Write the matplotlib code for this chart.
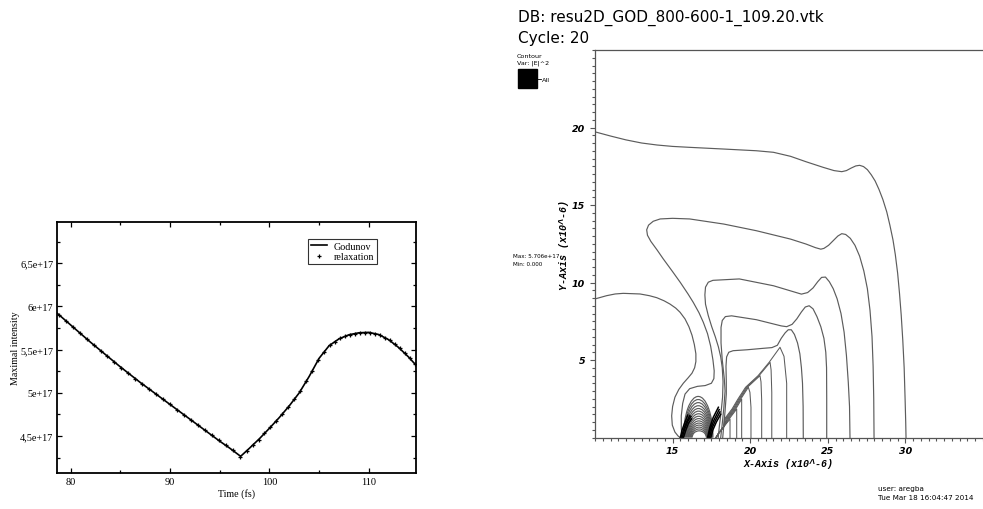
import matplotlib
matplotlib.use("Agg")
import matplotlib.pyplot as plt
from matplotlib.lines import Line2D
from matplotlib.patches import Arc, Rectangle
from matplotlib.ticker import FixedLocator, MultipleLocator, FuncFormatter

# ---------------- left panel data (intensity in units of 1e17) ----------------
t_god = [78.65, 80, 81, 82, 83, 84, 85, 86, 87, 88, 89, 90, 91, 92, 93, 94, 95, 96,
         97.1, 98, 99, 100, 101, 102, 103, 104, 105, 106, 107, 108, 109, 110, 111,
         112, 113, 114, 114.75]
i_god = [5.92, 5.785, 5.685, 5.585, 5.49, 5.395, 5.30, 5.21, 5.12, 5.035, 4.95, 4.865,
         4.78, 4.695, 4.61, 4.525, 4.44, 4.36, 4.265, 4.36, 4.47, 4.59, 4.715, 4.85,
         5.0, 5.19, 5.40, 5.545, 5.625, 5.672, 5.695, 5.70, 5.675, 5.615, 5.525,
         5.415, 5.32]
t_rel = [78.8, 79.5, 80.2, 80.9, 81.6, 82.3, 83.0, 83.7, 84.4, 85.1, 85.8, 86.5, 87.2,
         87.9, 88.6, 89.3, 90.0, 90.7, 91.4, 92.1, 92.8, 93.5, 94.2, 94.9, 95.6, 96.3,
         97.0, 97.7, 98.3, 98.9, 99.5, 100.1, 100.7, 101.3, 101.9, 102.5, 103.1, 103.7,
         104.3, 104.9, 105.5, 106.1, 106.6, 107.1, 107.6, 108.1, 108.6, 109.1, 109.6,
         110.1, 110.6, 111.1, 111.6, 112.1, 112.6, 113.1, 113.6, 114.1, 114.6]
i_rel = [5.905, 5.835, 5.765, 5.695, 5.625, 5.556, 5.49, 5.424, 5.357, 5.291, 5.228,
         5.165, 5.103, 5.044, 4.984, 4.925, 4.865, 4.806, 4.746, 4.687, 4.627, 4.568,
         4.508, 4.449, 4.392, 4.334, 4.262, 4.328, 4.393, 4.459, 4.53, 4.602, 4.677,
         4.755, 4.836, 4.925, 5.019, 5.133, 5.253, 5.379, 5.472, 5.553, 5.593, 5.63,
         5.653, 5.674, 5.686, 5.696, 5.698, 5.698, 5.685, 5.669, 5.639, 5.606, 5.561,
         5.514, 5.459, 5.402, 5.339]
left_xticks = [80, 90, 100, 110]
left_yticks = [4.5, 5.0, 5.5, 6.0, 6.5]

# ---------------- right panel data: contour lines (x10^-6) ----------------
c1_x = [10.0, 11.0, 12.0, 13.0, 14.0, 15.0, 16.1, 18.3, 20.4, 21.5, 22.6, 23.6, 24.7, 25.4,
        25.9, 26.2, 26.5, 26.8, 27.05, 27.3, 27.55, 27.8, 28.05, 28.3, 28.55, 28.8, 29.0,
        29.2, 29.35, 29.5, 29.62, 29.73, 29.83, 29.92, 29.98, 30.02, 30.04]
c1_y = [19.72, 19.45, 19.2, 19.0, 18.87, 18.78, 18.72, 18.61, 18.50, 18.40, 18.14, 17.79,
        17.43, 17.22, 17.15, 17.22, 17.38, 17.52, 17.56, 17.48, 17.28, 16.95, 16.55, 16.0,
        15.35, 14.55, 13.7, 12.75, 11.8, 10.6, 9.3, 7.9, 6.3, 4.5, 2.5, 1.0, 0.0]

c2_x = [27.98, 27.96, 27.92, 27.85, 27.72, 27.55, 27.32, 27.05, 26.75, 26.45, 26.15, 25.9,
        25.65, 25.35, 25.05, 24.75, 24.55, 24.2, 23.6, 22.6, 20.4, 18.3, 16.1, 15.0, 14.2,
        13.75, 13.45, 13.33, 13.38, 13.6, 14.0, 14.4, 15.0, 15.5, 16.0, 16.33, 16.7, 16.98,
        17.25, 17.45, 17.6, 17.68, 17.66, 17.5, 17.1, 16.6, 16.1, 15.8, 15.65, 15.56, 15.56,
        15.6]
c2_y = [0.0, 2.5, 4.6, 6.5, 8.2, 9.6, 10.75, 11.7, 12.4, 12.85, 13.1, 13.15, 13.0, 12.7,
        12.4, 12.2, 12.15, 12.25, 12.48, 12.8, 13.34, 13.77, 14.10, 14.14, 14.1, 13.95,
        13.7, 13.4, 13.05, 12.65, 12.1, 11.52, 10.7, 10.0, 9.25, 8.72, 8.05, 7.43, 6.7,
        5.9, 5.0, 4.3, 3.8, 3.5, 3.35, 3.3, 3.15, 2.8, 2.2, 1.4, 0.6, 0.0]

c3_x = [26.43, 26.4, 26.32, 26.2, 26.05, 25.85, 25.6, 25.35, 25.1, 24.85, 24.6, 24.35,
        24.05, 23.7, 23.3, 22.8, 21.5, 19.3, 17.6, 17.3, 17.12, 17.08, 17.12, 17.3, 17.52,
        17.75, 17.95, 18.1, 18.2, 18.25, 18.22, 18.12, 18.02, 17.94]
c3_y = [0.0, 2.0, 3.56, 5.3, 6.8, 8.0, 8.95, 9.6, 10.05, 10.35, 10.33, 10.05, 9.65, 9.35,
        9.25, 9.4, 9.79, 10.23, 10.14, 10.02, 9.7, 9.2, 8.6, 7.86, 7.15, 6.5, 5.85, 5.2,
        4.5, 3.6, 2.6, 1.6, 0.8, 0.0]

c4_x = [24.93, 24.93, 24.92, 24.87, 24.75, 24.55, 24.3, 24.05, 23.8, 23.55, 23.3, 23.0,
        22.7, 22.35, 22.0, 20.4, 18.8, 18.4, 18.2, 18.12, 18.12, 18.2, 18.33, 18.38, 18.3,
        18.2, 18.1]
c4_y = [0.0, 2.5, 4.5, 5.5, 6.4, 7.15, 7.8, 8.3, 8.5, 8.42, 8.1, 7.65, 7.3, 7.15, 7.2,
        7.6, 7.85, 7.8, 7.55, 7.1, 6.1, 5.0, 3.8, 3.0, 1.9, 0.9, 0.0]

c5_x = [23.42, 23.41, 23.37, 23.3, 23.2, 23.05, 22.85, 22.65, 22.45, 22.25, 22.0, 21.75,
        21.4, 20.8, 19.8, 18.9, 18.62, 18.48, 18.44, 18.46, 18.46, 18.38, 18.3, 18.23]
c5_y = [0.0, 2.0, 3.5, 4.5, 5.4, 6.1, 6.65, 6.95, 6.95, 6.75, 6.4, 5.95, 5.8, 5.75, 5.66,
        5.6, 5.5, 5.2, 4.6, 3.6, 2.8, 1.7, 0.8, 0.0]

lobe_x = [10.0, 10.75, 11.3, 11.82, 12.9, 13.5, 13.98, 14.45, 14.83, 15.2, 15.48, 15.8,
          16.05, 16.25, 16.4, 16.5, 16.5, 16.42, 16.25, 16.0, 15.69, 15.4, 15.15, 15.0,
          14.94, 14.98, 15.15, 15.35, 15.48]
lobe_y = [8.94, 9.15, 9.26, 9.30, 9.26, 9.15, 9.02, 8.82, 8.61, 8.35, 8.08, 7.65, 7.15,
          6.6, 6.0, 5.4, 4.9, 4.5, 4.15, 3.85, 3.5, 3.1, 2.6, 2.0, 1.4, 0.8, 0.35, 0.1, 0.0]

# steep "Lambda" shaped contours right of the source: peak and foot positions
lam_peak_x = [21.92, 21.28, 20.63, 19.88, 19.45, 19.13, 18.70]
lam_peak_y = [5.82, 4.85, 3.99, 3.24, 2.48, 1.84, 1.19]
lam_foot_x = [22.35, 21.39, 20.74, 20.05, 19.45, 19.13, 18.70]
lam_base_x = [18.30, 17.95, 17.80]
lam_base_y = [0.70, 0.25, 0.0]

# nested arches of the dome between the two sources
arch_left = [15.70, 15.74, 15.78, 15.82, 15.86, 15.90, 15.94, 15.98, 16.02, 16.06, 16.10,
             16.14, 16.18, 16.22, 16.26]
arch_right = [17.60, 17.56, 17.53, 17.50, 17.47, 17.44, 17.41, 17.38, 17.35, 17.32, 17.29,
              17.26, 17.23, 17.20, 17.17]
arch_height = [2.65, 2.45, 2.25, 2.05, 1.87, 1.70, 1.53, 1.37, 1.22, 1.07, 0.93, 0.80,
               0.67, 0.55, 0.43]

# saturated clusters at the two sources
cluster_x = [[15.55, 15.70, 15.90, 16.10], [15.62, 15.78, 15.98, 16.18],
             [15.70, 15.86, 16.04, 16.22], [15.50, 15.60, 15.78, 15.98],
             [17.30, 17.45, 17.70, 18.00], [17.38, 17.52, 17.76, 18.05],
             [17.46, 17.60, 17.82, 18.10], [17.25, 17.40, 17.62, 17.95]]
cluster_y = [[0.0, 0.5, 1.0, 1.4], [0.0, 0.55, 1.05, 1.35], [0.0, 0.5, 0.95, 1.2],
             [0.0, 0.45, 0.95, 1.45], [0.0, 0.6, 1.2, 1.8], [0.0, 0.55, 1.1, 1.65],
             [0.0, 0.5, 1.0, 1.5], [0.0, 0.65, 1.3, 1.95]]

right_xticks = [15, 20, 25, 30]
right_yticks = [5, 10, 15, 20]

# ---------------- figure ----------------
W, H = 983, 510
fig = plt.figure(figsize=(W / 100, H / 100), dpi=100)

def fx(px):
    return px / W

def fy(py):
    return 1 - py / H

# ---- left panel ----
axL = fig.add_axes([fx(57.3), fy(474), fx(416) - fx(57.3), fy(223.3) - fy(474)])
scale = 1e17
axL.plot(t_god, [v * scale for v in i_god], color="black", lw=1.2, zorder=2)
axL.plot(t_rel, [v * scale for v in i_rel], linestyle="none", marker="+", ms=3.2,
         mew=0.9, color="black", zorder=3)
axL.set_xlim(78.65, 114.75)
axL.set_ylim(4.072 * scale, 6.974 * scale)
axL.xaxis.set_major_locator(FixedLocator(left_xticks))
axL.xaxis.set_minor_locator(MultipleLocator(5))
axL.yaxis.set_major_locator(FixedLocator([v * scale for v in left_yticks]))
axL.yaxis.set_minor_locator(MultipleLocator(0.25 * scale))

def yfmt(v, pos):
    m = v / scale
    if abs(m - round(m)) < 1e-6:
        return "%de+17" % round(m)
    return ("%.1f" % m).replace(".", ",") + "e+17"

axL.yaxis.set_major_formatter(FuncFormatter(yfmt))
serif = "Liberation Serif"
axL.tick_params(which="both", direction="in", top=True, right=True, width=0.9,
                labelsize=7.4, pad=3)
axL.tick_params(which="major", length=3.5)
axL.tick_params(which="minor", length=2.5)
for lab in axL.get_xticklabels() + axL.get_yticklabels():
    lab.set_fontfamily(serif)
for s in axL.spines.values():
    s.set_linewidth(1.3)
axL.set_xlabel("Time (fs)", fontfamily=serif, fontsize=7.2, labelpad=1)
axL.set_ylabel("Maximal intensity", fontfamily=serif, fontsize=7.2, labelpad=0)
handles = [Line2D([], [], color="black", lw=1.2),
           Line2D([], [], color="black", marker="+", ls="none", ms=3.2, mew=0.9)]
leg = axL.legend(handles, ["Godunov", "relaxation"], loc="upper left",
                 bbox_to_anchor=(0.70, 0.935), frameon=True, fancybox=False,
                 prop={"family": serif, "size": 7.2}, handlelength=1.6,
                 handletextpad=0.6, borderpad=0.3, labelspacing=0.15, borderaxespad=0)
leg.get_frame().set_edgecolor("black")
leg.get_frame().set_linewidth(0.8)

# ---- right panel ----
axR = fig.add_axes([fx(595), fy(438.5), fx(983) - fx(595), fy(51) - fy(438.5)])
axR.set_xlim(10, 35)
axR.set_ylim(0, 25)
lc = "#5c5c5c"
lw = 0.85
for xs, ys in [(c1_x, c1_y), (c2_x, c2_y), (c3_x, c3_y), (c4_x, c4_y), (c5_x, c5_y),
               (lobe_x, lobe_y)]:
    axR.plot(xs, ys, color=lc, lw=lw, solid_joinstyle="round")
n = len(lam_peak_x)
for k in range(n):
    dx = lam_foot_x[k] - lam_peak_x[k]
    xs = [lam_foot_x[k], lam_foot_x[k], lam_peak_x[k] + 0.6 * dx, lam_peak_x[k]]
    ys = [0.0, lam_peak_y[k] * 0.6, lam_peak_y[k] * 0.9, lam_peak_y[k]]
    for j in range(k + 1, n):
        xs.append(lam_peak_x[j] - 0.06 * (j - k))
        ys.append(lam_peak_y[j])
    xs += lam_base_x
    ys += lam_base_y
    axR.plot(xs, ys, color=lc, lw=0.75, solid_joinstyle="round")
for xl, xr, h in zip(arch_left, arch_right, arch_height):
    axR.add_patch(Arc(((xl + xr) / 2, 0), xr - xl, 2 * h, theta1=0, theta2=180,
                      color=lc, lw=lw))
for xs, ys in zip(cluster_x, cluster_y):
    axR.plot(xs, ys, color="black", lw=1.1)

axR.spines["right"].set_visible(False)
for s in ["left", "bottom", "top"]:
    axR.spines[s].set_color("#555555")
    axR.spines[s].set_linewidth(0.9)
axR.xaxis.set_major_locator(FixedLocator(right_xticks))
axR.yaxis.set_major_locator(FixedLocator(right_yticks))
axR.xaxis.set_minor_locator(MultipleLocator(0.5))
axR.yaxis.set_minor_locator(MultipleLocator(0.5))
axR.tick_params(which="both", direction="out", color="#555555", width=0.8,
                labelsize=6.8)
axR.tick_params(which="major", length=3.6)
axR.tick_params(which="minor", length=2.0)
axR.tick_params(axis="x", pad=2.5)
axR.tick_params(axis="y", pad=3.5)
for lab in axR.get_xticklabels() + axR.get_yticklabels():
    lab.set_fontweight("bold")
    lab.set_fontstyle("italic")
axR.set_xlabel("X-Axis (x10^-6)", fontfamily="Liberation Mono", fontweight="bold",
               fontstyle="italic", fontsize=7.2)
axR.set_ylabel("Y-Axis (x10^-6)", fontfamily="Liberation Mono", fontweight="bold",
               fontstyle="italic", fontsize=7.2)
axR.xaxis.set_label_coords(0.5, -0.052)
axR.yaxis.set_label_coords(-0.066, 0.5)

# ---- annotation texts ----
sans = "DejaVu Sans"
fig.text(fx(518), fy(22), "DB: resu2D_GOD_800-600-1_109.20.vtk", fontsize=11,
         fontfamily=sans, va="baseline")
fig.text(fx(518), fy(43), "Cycle: 20", fontsize=11, fontfamily=sans, va="baseline")
fig.text(fx(517), fy(57.5), "Contour", fontsize=4.6, fontfamily=sans, va="baseline")
fig.text(fx(517), fy(64.5), "Var: |E|^2", fontsize=4.6, fontfamily=sans, va="baseline")
fig.patches.append(Rectangle((fx(518), fy(89)), fx(537) - fx(518), fy(70) - fy(89),
                             transform=fig.transFigure, facecolor="black",
                             edgecolor="black", figure=fig))
fig.lines.append(Line2D([fx(537), fx(541)], [fy(80), fy(80)], transform=fig.transFigure,
                        color="black", lw=0.6, figure=fig))
fig.text(fx(541.5), fy(82), "All", fontsize=4.6, fontfamily=sans, va="baseline")
fig.text(fx(513), fy(258), "Max: 5.706e+17", fontsize=4.1, fontfamily=sans, va="baseline")
fig.text(fx(513), fy(266), "Min: 0.000", fontsize=4.1, fontfamily=sans, va="baseline")
fig.text(fx(878), fy(491), "user: aregba", fontsize=5.2, fontfamily=sans, va="baseline")
fig.text(fx(878), fy(500), "Tue Mar 18 16:04:47 2014", fontsize=5.2, fontfamily=sans,
         va="baseline")

fig.savefig("out.png", dpi=100)
